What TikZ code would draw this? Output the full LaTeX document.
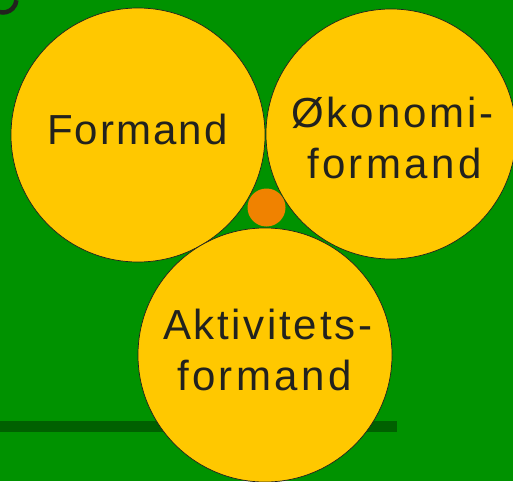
\documentclass[tikz,border=0pt]{standalone}
\usepackage{fontspec}
\setmainfont{Liberation Sans}
\newfontfamily\fFormand[LetterSpace=5]{Liberation Sans}
\newfontfamily\fOkon[LetterSpace=7]{Liberation Sans}
\newfontfamily\fAkt[LetterSpace=6.4]{Liberation Sans}
\newfontfamily\fform[LetterSpace=8]{Liberation Sans}
\definecolor{bggreen}{RGB}{0,146,0}
\definecolor{ballyellow}{RGB}{255,200,0}
\definecolor{dotorange}{RGB}{240,130,0}
\definecolor{bardark}{RGB}{0,96,0}
\definecolor{inkdark}{RGB}{34,34,30}
\tikzset{
  ball/.style={circle, fill=ballyellow, draw=inkdark, line width=0.7pt, inner sep=0pt},
  label text/.style={anchor=base west, inner sep=0pt, text=inkdark, font=\fontsize{42}{50}\selectfont},
}
\begin{document}
\begin{tikzpicture}[x=1pt,y=-1pt]
\useasboundingbox (0,0) rectangle (513,481);
\clip (0,0) rectangle (513,481);
\fill[bggreen] (0,0) rectangle (513,481);
\fill[bardark] (0,421) rectangle (397,431.5);
\draw[inkdark, line width=4.5pt] (3,-1) ++(105:13.5) arc[start angle=105, end angle=5, radius=13.5];
\node[ball, minimum size=254pt] (formand) at (138,135) {};
\node[ball, minimum size=250pt] (okonomi) at (391,134) {};
\node[circle, fill=dotorange, inner sep=0pt, minimum size=38pt] (dot) at (266.5,207.5) {};
\node[ball, minimum size=254pt] (aktivitet) at (265,355) {};
\node[label text] (t1) at (47,145) {\fFormand Formand};
\node[label text] (t2) at (291,127.5) {\fOkon Økonomi-};
\node[label text] (t3) at (307,178) {\fform formand};
\node[label text] (t4) at (163,339) {\fAkt Aktivitets-};
\node[label text] (t5) at (177,390) {\fform formand};
\end{tikzpicture}
\end{document}
